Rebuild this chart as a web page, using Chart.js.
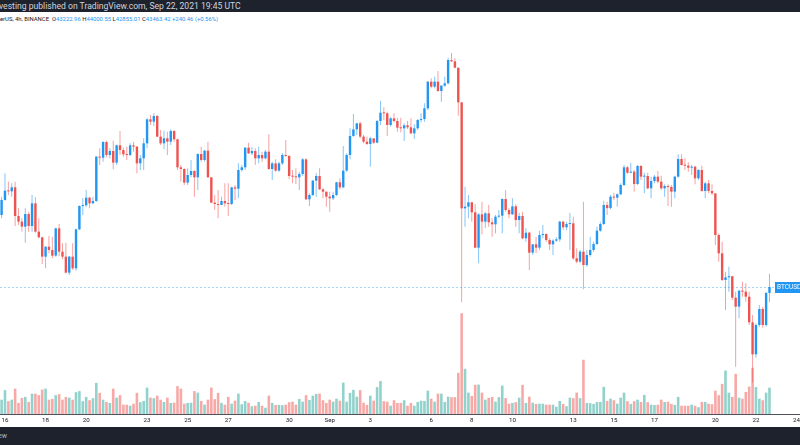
<!DOCTYPE html>
<html>
<head>
<meta charset="utf-8">
<script src="https://cdn.jsdelivr.net/npm/chart.js@4.4.0/dist/chart.umd.min.js"></script>
<style>
  body { margin: 0; width: 800px; height: 445px; position: relative; overflow: hidden; background: #fff; font-family: Roboto, 'Liberation Sans', sans-serif; }
  .bar { position: absolute; left: 0; width: 800px; background: #1e222d; white-space: nowrap; }
  #header { top: 0; height: 12px; color: #d1d4dc; font-size: 8.6px; line-height: 12px; text-indent: -1px; }
  #footer { top: 427px; height: 18px; color: #b2b5be; font-size: 7px; line-height: 19px; text-indent: -2px; }
  #legend { position: absolute; left: 0; top: 15px; font-size: 5.9px; line-height: 9px; color: #131722; white-space: nowrap; }
  #legend .v { color: #2196f3; }
  canvas { position: absolute; left: 0; top: 12px; }
</style>
</head>
<body>
<div class="bar" id="header">vesting published on TradingView.com, Sep 22, 2021 19:45 UTC</div>
<div id="legend"></div>
<canvas id="chart" width="800" height="415"></canvas>
<div class="bar" id="footer">ew</div>
<script>
// 4h bars, first one opens Aug 15 2021 20:00 UTC
const startTime = Date.UTC(2021, 7, 15, 20)
const barMs = 4 * 3600 * 1000
const firstOpen = 46372

// closes, one row = 12 bars (2 days)
const closes = [
  46978, 47355, 47328, 47490, 46332, 46103, 45901, 46412, 45928, 46843, 45699, 45470,
  44689, 45092, 44958, 44729, 45833, 44890, 44689, 44042, 44689, 44217, 45793, 46735,
  46762, 47072, 46843, 46937, 48729, 48688, 49321, 48796, 48958, 48486, 49187, 48998,
  48823, 48796, 49187, 49133, 48459, 48661, 49267, 50237, 50143, 50372, 49537, 49267,
  49469, 49335, 49766, 49429, 48298, 48230, 47678, 47988, 48150, 47894, 48836, 48594,
  48971, 47894, 46870, 46816, 46776, 46937, 46843, 46816, 47489, 47436, 48190, 48298,
  49092, 48863, 48958, 48661, 48796, 48661, 48931, 48230, 48459, 48163, 48459, 48796,
  48756, 47948, 47921, 47894, 48028, 48621, 47005, 47180, 47759, 47948, 47409, 47315,
  47113, 47045, 47180, 47692, 47490, 48163, 48796, 49564, 49833, 50075, 49537, 49335,
  49240, 49469, 49294, 50170, 50506, 50479, 50008, 50277, 50170, 49900, 49873, 49995,
  49914, 49671, 49873, 50210, 50250, 50681, 51759, 51557, 51759, 51382, 51597, 51691,
  52634, 52580, 52324, 50924, 46641, 46709, 46884, 46480, 45052, 46399, 46103, 46439,
  46076, 45995, 46305, 46345, 47018, 46574, 46399, 46722, 46170, 46332, 45429, 45658,
  44850, 45187, 45052, 45564, 45604, 45362, 45187, 45335, 45389, 46103, 45874, 46008,
  46035, 44621, 44487, 44891, 44352, 44756, 44958, 45200, 45739, 46008, 46776, 46650,
  47113, 47072, 47207, 47584, 48298, 48082, 48123, 47624, 48352, 47921, 47948, 47449,
  47746, 47921, 47719, 47449, 47544, 47503, 47315, 47921, 48634, 48392, 48365, 48284,
  48325, 47853, 48190, 47342, 47651, 47342, 47247, 45564, 44823, 43746, 43854, 43900,
  43032, 42669, 43315, 43275, 43073, 42036, 40743, 41928, 42574, 41928, 43222.96, 43463.42
]

const highs = [
  47113, 48055, 47719, 47651, 47719, 46641, 46237, 46641, 46507, 47180, 47086, 46237,
  45497, 45120, 45524, 45497, 45860, 46008, 45227, 45254, 44716, 45227, 45820, 46762,
  47045, 47382, 47113, 47113, 48756, 49065, 49348, 49375, 49065, 49375, 49213, 49766,
  49092, 49133, 49267, 49335, 49160, 48796, 49469, 50277, 50412, 50479, 50412, 49806,
  49779, 49739, 49833, 49806, 49456, 48392, 48257, 48257, 48594, 48190, 48863, 49133,
  48998, 49335, 47894, 47180, 47382, 47113, 47651, 47651, 47517, 47584, 48459, 48392,
  49119, 49294, 49106, 49065, 49133, 48931, 48998, 49631, 48527, 48621, 48527, 48863,
  49402, 48796, 48190, 48257, 48123, 48661, 48661, 47247, 47786, 48055, 48257, 47449,
  47315, 47315, 47315, 47719, 47853, 49160, 48863, 49873, 50452, 50102, 50143, 49604,
  49537, 49537, 49469, 50210, 50991, 50722, 50547, 50345, 50479, 50304, 50304, 50075,
  50170, 50277, 50035, 50250, 50479, 50883, 51786, 51893, 51961, 52190, 51624, 51961,
  52728, 52920, 52701, 52324, 50924, 47517, 47180, 46911, 46803, 46439, 46911, 46507,
  46776, 46237, 46372, 46574, 47045, 47382, 46641, 47045, 46803, 46466, 46507, 45833,
  45699, 45200, 45497, 45739, 45968, 45631, 45429, 45389, 45470, 46143, 46143, 46103,
  46466, 46305, 45025, 44958, 46911, 44958, 45497, 45295, 45901, 46103, 46951, 46911,
  47180, 47274, 47247, 47651, 48392, 48352, 48486, 48190, 48392, 48392, 48082, 48082,
  47921, 47988, 48150, 47961, 47611, 47611, 47584, 47961, 48823, 48823, 48661, 48500,
  48392, 48365, 48230, 48365, 47719, 47786, 47611, 47247, 45631, 45295, 44083, 44285,
  43881, 43275, 43342, 43679, 43611, 43275, 42332, 41995, 42736, 42669, 43275, 44000.55
]

const lows = [
  46237, 46950, 47180, 47113, 45928, 45968, 45699, 45254, 45699, 45699, 45658, 45430,
  44392, 44217, 44823, 44621, 44689, 44716, 44581, 44015, 43948, 44150, 44123, 45766,
  46372, 46709, 46641, 46816, 46911, 48392, 48527, 48702, 48661, 48217, 48392, 48796,
  48729, 48594, 48756, 48931, 48055, 48190, 48190, 49065, 50008, 49968, 49510, 49200,
  49025, 48796, 49200, 49335, 48190, 47719, 47584, 47584, 47894, 47113, 47382, 48527,
  48527, 47870, 46843, 46574, 46237, 46776, 46709, 46332, 46776, 46978, 47045, 48123,
  48190, 48836, 48796, 48392, 48459, 48527, 48621, 48203, 47786, 48123, 48123, 48392,
  48729, 47813, 47651, 47624, 47382, 47948, 46978, 46736, 47140, 47113, 47382, 47045,
  46709, 46506, 46978, 47140, 47409, 47449, 48123, 48621, 49537, 49604, 49469, 49267,
  49200, 48325, 49240, 49267, 50008, 50210, 49564, 49941, 50116, 49739, 49712, 49362,
  49846, 49631, 49442, 49806, 50116, 50143, 50614, 51489, 51489, 51355, 50951, 51557,
  51651, 52560, 52297, 50385, 42843, 45901, 46237, 46103, 45025, 44419, 45591, 45833,
  45901, 45497, 45631, 46237, 45631, 46507, 46237, 46372, 45901, 45631, 45389, 45295,
  44150, 44756, 44823, 44958, 45429, 45295, 44958, 44756, 45295, 45295, 45766, 45766,
  44958, 44554, 44419, 44419, 43370, 44285, 44689, 44891, 45160, 45699, 45968, 46372,
  46600, 46978, 46709, 47180, 47544, 48028, 48055, 47315, 47584, 47786, 47247, 47409,
  47045, 47651, 47651, 47382, 47113, 46736, 46709, 47045, 47880, 48365, 48190, 48123,
  47988, 47611, 47786, 47315, 47045, 47247, 47180, 45160, 44487, 43706, 42534, 43275,
  42938, 40244, 42197, 43073, 42871, 41928, 39600, 40608, 41861, 41820, 41861, 42855.01
]

const volumes = [
  5700, 9500, 5100, 5700, 10100, 4400, 6400, 6800, 4800, 8100, 8100, 7500,
  9700, 10100, 5700, 6000, 7500, 7900, 5700, 6800, 6500, 5700, 8700, 9100,
  5100, 6800, 5500, 6300, 12400, 8400, 5700, 4800, 4400, 10100, 6500, 7500,
  3700, 3700, 3300, 4100, 8400, 4700, 5200, 10500, 6500, 6300, 7300, 5700,
  4800, 6500, 4400, 4500, 11100, 10100, 4100, 4400, 4500, 9100, 8500, 5200,
  3700, 5700, 10500, 5900, 8400, 4400, 3700, 6800, 4100, 5300, 8100, 3900,
  5200, 4500, 3100, 3300, 4800, 3300, 2500, 7300, 4400, 3600, 3600, 3500,
  3700, 4700, 4900, 3700, 6000, 4900, 7500, 5600, 7300, 8000, 8100, 5500,
  4400, 5700, 4900, 6100, 5300, 12500, 4900, 8400, 9600, 6900, 9500, 4500,
  3600, 7300, 5300, 10700, 13100, 5100, 4900, 3300, 5500, 4400, 4400, 5500,
  3300, 4400, 3300, 4800, 5300, 5200, 9300, 6100, 4900, 8100, 8100, 4800,
  6900, 6700, 6700, 16400, 40100, 18000, 8500, 7200, 11600, 11700, 8500, 5700,
  6400, 6800, 4900, 6700, 11300, 6300, 4100, 4400, 4700, 6500, 11600, 4400,
  6900, 4500, 4000, 4100, 4100, 3700, 3700, 3700, 2900, 5200, 4000, 3100,
  6500, 6300, 8500, 6300, 21600, 4400, 4300, 4000, 4800, 4800, 10800, 5200,
  6100, 5500, 4100, 6500, 8500, 5100, 4000, 5100, 5700, 4800, 7600, 4700,
  3700, 3600, 3700, 5700, 4800, 4900, 4000, 3600, 6800, 3300, 3300, 3300,
  3700, 3300, 2700, 4800, 4800, 4100, 3900, 9300, 7500, 12000, 17300, 8500,
  6800, 16000, 6500, 6100, 8800, 10900, 18400, 10700, 6100, 5500, 8500, 10500
]

// time axis labels
const tickDates = ['2021-08-16', '2021-08-18', '2021-08-20', '2021-08-23', '2021-08-25', '2021-08-27',
  '2021-08-30', '2021-09-01', '2021-09-03', '2021-09-06', '2021-09-08', '2021-09-10',
  '2021-09-13', '2021-09-15', '2021-09-17', '2021-09-20', '2021-09-22', '2021-09-24']
const tickLabels = ['16', '18', '20', '23', '25', '27', '30', 'Sep', '3', '6', '8', '10',
  '13', '15', '17', '20', '22', '24']

// derived
const opens = closes.map((c, i) => i === 0 ? firstOpen : closes[i - 1])
const up = closes.map((c, i) => c >= opens[i])
const tickIndex = tickDates.map(d => (Date.parse(d + 'T00:00:00Z') - startTime) / barMs)

const blue = '#2196f3'
const red = '#ef5350'

// legend line
const n = closes.length - 1
const chg = closes[n] - opens[n]
const pct = chg / opens[n] * 100
const sign = chg >= 0 ? '+' : ''
document.getElementById('legend').innerHTML =
  'erUS, 4h, BINANCE&nbsp;&nbsp;O<span class="v">' + opens[n].toFixed(2) +
  '</span>&nbsp;H<span class="v">' + highs[n].toFixed(2) +
  '</span>&nbsp;L<span class="v">' + lows[n].toFixed(2) +
  '</span>&nbsp;C<span class="v">' + closes[n].toFixed(2) +
  '</span>&nbsp;<span class="v">' + sign + chg.toFixed(2) + ' (' + sign + pct.toFixed(2) + '%)</span>'

// last price line + tag
const lastPrice = {
  id: 'lastPrice',
  beforeDatasetsDraw(chart) {
    const { ctx, chartArea, scales } = chart
    const y = Math.round(scales.y.getPixelForValue(closes[n])) + 0.5
    ctx.save()
    ctx.strokeStyle = 'rgba(33,150,243,0.4)'
    ctx.lineWidth = 1
    ctx.setLineDash([2, 2])
    ctx.beginPath()
    ctx.moveTo(chartArea.left, y)
    ctx.lineTo(chartArea.right, y)
    ctx.stroke()
    ctx.restore()
  },
  afterDatasetsDraw(chart) {
    const { ctx, scales } = chart
    const y = Math.round(scales.y.getPixelForValue(closes[n]))
    ctx.save()
    ctx.fillStyle = blue
    ctx.fillRect(775, y - 5, 30, 11)
    ctx.fillStyle = '#fff'
    ctx.font = '6.5px Roboto'
    ctx.textBaseline = 'middle'
    ctx.fillText('BTCUSDT', 777, y + 0.5)
    ctx.restore()
  }
}

new Chart(document.getElementById('chart'), {
  type: 'bar',
  data: {
    datasets: [
      {
        label: 'body',
        data: closes.map((c, i) => ({ x: i, y: [opens[i], c] })),
        yAxisID: 'y',
        backgroundColor: up.map(u => u ? blue : red),
        barThickness: 2.4,
        minBarLength: 1,
        inflateAmount: 0,
        grouped: false,
        order: 1
      },
      {
        label: 'wick',
        data: closes.map((c, i) => ({ x: i, y: [Math.min(lows[i], opens[i], c), Math.max(highs[i], opens[i], c)] })),
        yAxisID: 'y',
        backgroundColor: up.map(u => u ? 'rgba(33,150,243,0.55)' : 'rgba(239,83,80,0.55)'),
        barThickness: 1,
        inflateAmount: 0,
        grouped: false,
        order: 2
      },
      {
        label: 'volume',
        data: volumes.map((v, i) => ({ x: i, y: v })),
        yAxisID: 'yv',
        backgroundColor: up.map(u => u ? 'rgba(38,166,154,0.5)' : 'rgba(239,83,80,0.5)'),
        barThickness: 2.6,
        inflateAmount: 0,
        grouped: false,
        order: 3
      }
    ]
  },
  options: {
    responsive: false,
    animation: false,
    devicePixelRatio: 1,
    layout: { padding: 0 },
    plugins: { legend: { display: false }, tooltip: { enabled: false } },
    scales: {
      x: {
        type: 'linear',
        min: -0.473,
        max: 236.02,
        offset: false,
        grid: { display: false, drawTicks: false },
        border: { display: true, color: '#50535e', width: 1 },
        ticks: {
          autoSkip: false,
          maxRotation: 0,
          padding: 3,
          color: '#131722',
          font: { size: 6.2, family: 'Roboto' },
          callback: (v, i) => tickLabels[i]
        },
        afterBuildTicks: s => { s.ticks = tickIndex.map(v => ({ value: v })) },
        afterFit: s => { s.height = 13; s.paddingLeft = 0; s.paddingRight = 0 }
      },
      y: { display: false, min: 38332, max: 54573 },
      yv: { display: false, min: 0, max: 160000 }
    }
  },
  plugins: [lastPrice]
})
</script>
</body>
</html>
